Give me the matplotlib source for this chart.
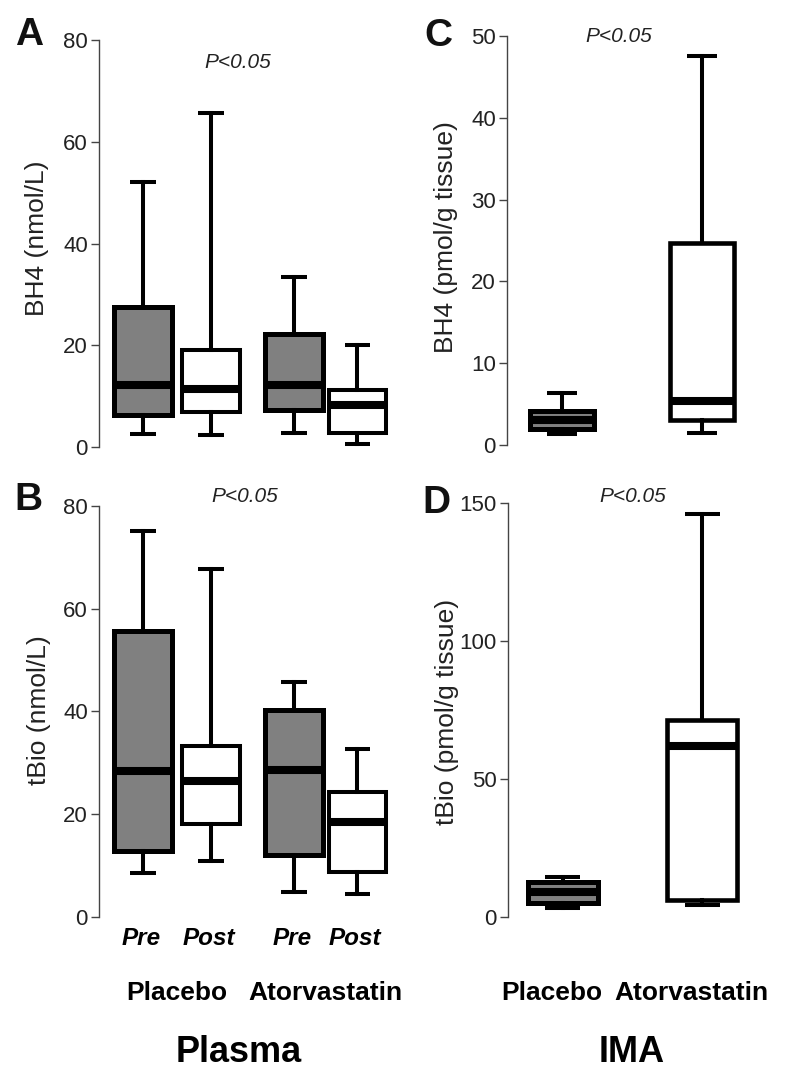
import matplotlib.pyplot as plt
from matplotlib.transforms import blended_transform_factory

plt.rcParams['font.family'] = ['Liberation Sans', 'DejaVu Sans']

groups = ['Placebo', 'Atorvastatin']
phases = ['Pre', 'Post', 'Pre', 'Post']

# box stats: whisker low, q1, median, q3, whisker high
# A: plasma BH4 (nmol/L)
a_lo = [2.5, 2.4, 2.7, 0.6]
a_q1 = [6.2, 6.8, 7.3, 2.7]
a_med = [12.2, 11.4, 12.1, 8.3]
a_q3 = [27.5, 19.0, 22.3, 11.2]
a_hi = [52.0, 65.6, 33.4, 20.0]

# B: plasma tBio (nmol/L)
b_lo = [8.5, 10.8, 4.8, 4.4]
b_q1 = [12.8, 18.0, 12.0, 8.8]
b_med = [28.3, 26.4, 28.5, 18.4]
b_q3 = [55.6, 33.3, 40.2, 24.2]
b_hi = [75.2, 67.8, 45.8, 32.6]

# C: IMA BH4 (pmol/g tissue)
c_lo = [1.3, 1.5]
c_q1 = [2.0, 3.0]
c_med = [3.0, 5.4]
c_q3 = [4.1, 24.7]
c_hi = [6.3, 47.6]

# D: IMA tBio (pmol/g tissue)
d_lo = [3.2, 4.2]
d_q1 = [5.0, 6.2]
d_med = [9.0, 62.0]
d_q3 = [12.5, 71.5]
d_hi = [14.5, 146.0]

W, H = 800, 1083
fig = plt.figure(figsize=(W / 100, H / 100), dpi=100)


def px(x, y):
    return x / W, 1 - y / H


def boxes(ax, lo, q1, med, q3, hi, pos, width, capw, fills, edge_lw):
    stats = [dict(whislo=l, q1=a, med=m, q3=b, whishi=h, fliers=[])
             for l, a, m, b, h in zip(lo, q1, med, q3, hi)]
    res = ax.bxp(stats, positions=pos, widths=width, capwidths=capw,
                 patch_artist=True, showfliers=False, manage_ticks=False,
                 medianprops=dict(color='black', linewidth=5.8, solid_capstyle='butt'),
                 whiskerprops=dict(color='black', linewidth=2.9),
                 capprops=dict(color='black', linewidth=2.9, solid_capstyle='butt'))
    for patch, fc, lw in zip(res['boxes'], fills, edge_lw):
        patch.set_facecolor(fc)
        patch.set_edgecolor('black')
        patch.set_linewidth(lw)
        patch.set_joinstyle('miter')
        patch.set_clip_on(False)
    for art in res['whiskers'] + res['caps'] + res['medians']:
        art.set_clip_on(False)


def style(ax, ymax, yticks):
    for s in ['top', 'right', 'bottom']:
        ax.spines[s].set_visible(False)
    ax.spines['left'].set_linewidth(1.0)
    ax.spines['left'].set_color('#444444')
    ax.set_ylim(0, ymax)
    ax.set_yticks(yticks)
    ax.tick_params(axis='y', length=6, width=1, color='#444444',
                   labelsize=16, labelcolor='#222222', pad=2)
    ax.set_xticks([])
    ax.patch.set_visible(False)


plasma_pos = [1, 2, 3.22, 4.15]
ima_pos = [1, 2]
plasma_fill = ['#808080', 'white', '#808080', 'white']
ima_fill = ['#808080', 'white']

axA = fig.add_axes([99 / W, 1 - 447 / H, 301 / W, 407 / H])
axB = fig.add_axes([99 / W, 1 - 916.7 / H, 301 / W, 410.7 / H])
axC = fig.add_axes([507 / W, 1 - 445 / H, 293 / W, 409 / H])
axD = fig.add_axes([508 / W, 1 - 916.7 / H, 292 / W, 413.4 / H])

boxes(axA, a_lo, a_q1, a_med, a_q3, a_hi, plasma_pos, 0.84, 0.37, plasma_fill, [3.6, 2.9, 3.6, 2.9])
boxes(axB, b_lo, b_q1, b_med, b_q3, b_hi, plasma_pos, 0.84, 0.37, plasma_fill, [3.6, 2.9, 3.6, 2.9])
boxes(axC, c_lo, c_q1, c_med, c_q3, c_hi, ima_pos, 0.46, 0.22, ima_fill, [3.6, 3.3])
boxes(axD, d_lo, d_q1, d_med, d_q3, d_hi, ima_pos, 0.5, 0.25, ima_fill, [3.6, 3.3])

style(axA, 80, [0, 20, 40, 60, 80])
style(axB, 80, [0, 20, 40, 60, 80])
style(axC, 50, [0, 10, 20, 30, 40, 50])
style(axD, 150, [0, 50, 100, 150])

for ax in (axA, axB):
    ax.set_xlim(0.353, 0.353 + 301 / 68)
for ax in (axC, axD):
    ax.set_xlim(0.607, 0.607 + 293 / 140)

# y labels
for (x, y), lab in [((37, 238), 'BH4 (nmol/L)'), ((39, 710), 'tBio (nmol/L)'),
                    ((446, 237), 'BH4 (pmol/g tissue)'), ((447, 712), 'tBio (pmol/g tissue)')]:
    fig.text(*px(x, y), lab, rotation=90, ha='center', va='center',
             fontsize=19, color='#222222')

# panel letters
for (x, y), lab in [((29, 35), 'A'), ((28, 500), 'B'), ((438, 36), 'C'), ((436, 503), 'D')]:
    fig.text(*px(x, y), lab, ha='center', va='center', fontsize=28,
             fontweight='bold', color='#111111')

# p values
for (x, y) in [(238, 62), (245, 496), (619, 36), (633, 496)]:
    fig.text(*px(x, y), 'P<0.05', ha='center', va='center', fontsize=15,
             fontstyle='italic', color='#222222')

# phase labels under plasma boxes
trB = blended_transform_factory(axB.transData, axB.transAxes)
for p, lab in zip(plasma_pos, phases):
    axB.text(p - 0.03, -0.052, lab, transform=trB, ha='center', va='center',
             fontsize=17.5, fontweight='bold', fontstyle='italic')

# group labels
for i, lab in enumerate(groups):
    x = (plasma_pos[2 * i] + plasma_pos[2 * i + 1]) / 2
    axB.text(x, -0.186, lab, transform=trB, ha='center', va='center',
             fontsize=19, fontweight='bold')
trD = blended_transform_factory(axD.transData, axD.transAxes)
for p, lab in zip(ima_pos, groups):
    axD.text(p - 0.08, -0.185, lab, transform=trD, ha='center', va='center',
             fontsize=19, fontweight='bold')

fig.text(*px(239, 1052), 'Plasma', ha='center', va='center', fontsize=26,
         fontweight='bold')
fig.text(*px(632, 1052), 'IMA', ha='center', va='center', fontsize=26,
         fontweight='bold')

fig.savefig('out.png', dpi=100, facecolor='white')
